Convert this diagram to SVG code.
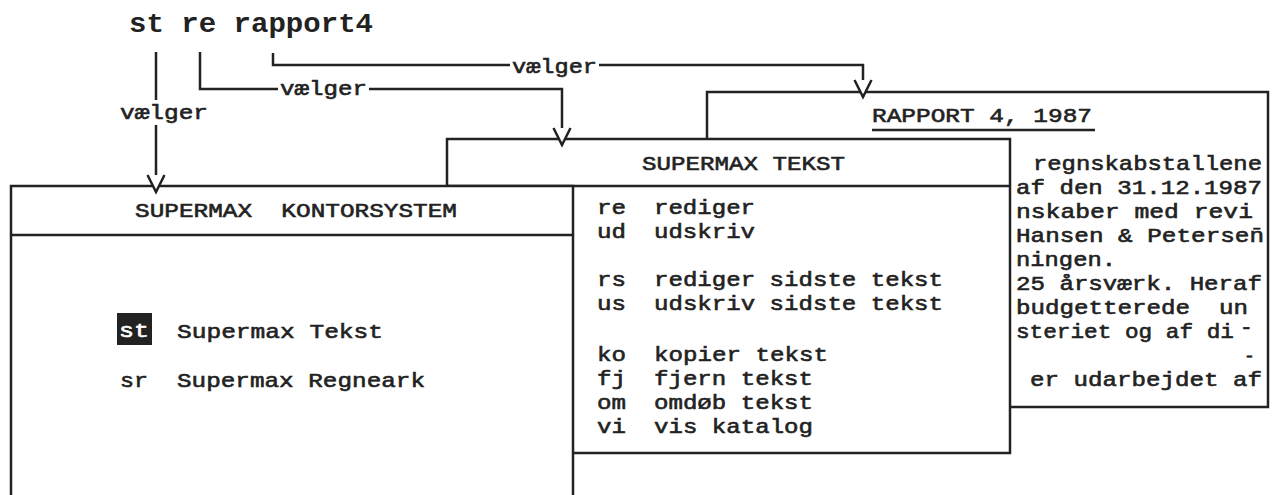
<svg xmlns="http://www.w3.org/2000/svg" width="1280" height="495" viewBox="0 0 1280 495">
<style>
.b{fill:#fff;stroke:#222;stroke-width:2.5}
.ln{fill:none;stroke:#222;stroke-width:2.5}
.t{font-family:"Liberation Mono",monospace;font-size:21px;fill:#222;stroke:#222;stroke-width:0.6;white-space:pre}
.cmd{font-family:"Liberation Mono",monospace;font-weight:bold;font-size:27px;fill:#222;white-space:pre}
</style>
<defs>
<marker id="v" markerUnits="userSpaceOnUse" markerWidth="40" markerHeight="40" refX="0" refY="0" orient="auto" overflow="visible">
<path d="M-17,-8.5 L0,0 L-17,8.5" fill="#fff" stroke="#222" stroke-width="2.5"/>
</marker>
</defs>
<rect width="1280" height="495" fill="#fff"/>
<g id="command">
<text class="cmd" x="129" y="32" textLength="244" lengthAdjust="spacingAndGlyphs">st re rapport4</text>
</g>
<g id="rapport">
<rect class="b" x="707" y="92" width="561" height="315"/>
<text class="t" x="872" y="122" textLength="220" lengthAdjust="spacingAndGlyphs">RAPPORT 4, 1987</text>
<line class="ln" x1="872" y1="130" x2="1095" y2="130"/>
<text class="t" x="1033" y="170" textLength="229" lengthAdjust="spacingAndGlyphs">regnskabstallene</text>
<text class="t" x="1016" y="194" textLength="246" lengthAdjust="spacingAndGlyphs">af den 31.12.1987</text>
<text class="t" x="1016" y="218" textLength="237" lengthAdjust="spacingAndGlyphs">nskaber med revi</text>
<text class="t" x="1016" y="242" textLength="248" lengthAdjust="spacingAndGlyphs">Hansen &amp; Petersen̄</text>
<text class="t" x="1016" y="266" textLength="100" lengthAdjust="spacingAndGlyphs">ningen.</text>
<text class="t" x="1016" y="290" textLength="246" lengthAdjust="spacingAndGlyphs">25 årsværk. Heraf</text>
<text class="t" x="1016" y="314" textLength="232" lengthAdjust="spacingAndGlyphs">budgetterede  un</text>
<text class="t" x="1016" y="338"><tspan textLength="218" lengthAdjust="spacingAndGlyphs">steriet og af di</tspan><tspan x="1240" dy="-4">-</tspan></text>
<text class="t" x="1244" y="362" style="font-size:18px">-</text>
<text class="t" x="1030" y="386" textLength="232" lengthAdjust="spacingAndGlyphs">er udarbejdet af</text>
</g>
<g id="tekst">
<rect class="b" x="447" y="139" width="563" height="314"/>
<line class="ln" x1="447" y1="186" x2="1010" y2="186"/>
<text class="t" x="642" y="170" textLength="203" lengthAdjust="spacingAndGlyphs">SUPERMAX TEKST</text>
<text class="t" x="597" y="214" textLength="29" lengthAdjust="spacingAndGlyphs">re</text><text class="t" x="654" y="214" textLength="101" lengthAdjust="spacingAndGlyphs">rediger</text>
<text class="t" x="597" y="238" textLength="29" lengthAdjust="spacingAndGlyphs">ud</text><text class="t" x="654" y="238" textLength="101" lengthAdjust="spacingAndGlyphs">udskriv</text>
<text class="t" x="597" y="286" textLength="29" lengthAdjust="spacingAndGlyphs">rs</text><text class="t" x="654" y="286" textLength="289" lengthAdjust="spacingAndGlyphs">rediger sidste tekst</text>
<text class="t" x="597" y="310" textLength="29" lengthAdjust="spacingAndGlyphs">us</text><text class="t" x="654" y="310" textLength="289" lengthAdjust="spacingAndGlyphs">udskriv sidste tekst</text>
<text class="t" x="597" y="361" textLength="29" lengthAdjust="spacingAndGlyphs">ko</text><text class="t" x="654" y="361" textLength="174" lengthAdjust="spacingAndGlyphs">kopier tekst</text>
<text class="t" x="597" y="385" textLength="29" lengthAdjust="spacingAndGlyphs">fj</text><text class="t" x="654" y="385" textLength="159" lengthAdjust="spacingAndGlyphs">fjern tekst</text>
<text class="t" x="597" y="409" textLength="29" lengthAdjust="spacingAndGlyphs">om</text><text class="t" x="654" y="409" textLength="159" lengthAdjust="spacingAndGlyphs">omdøb tekst</text>
<text class="t" x="597" y="433" textLength="29" lengthAdjust="spacingAndGlyphs">vi</text><text class="t" x="654" y="433" textLength="159" lengthAdjust="spacingAndGlyphs">vis katalog</text>
</g>
<g id="kontor">
<rect class="b" x="11" y="186" width="562" height="330"/>
<line class="ln" x1="11" y1="235" x2="573" y2="235"/>
<text class="t" x="135" y="217" textLength="322" lengthAdjust="spacingAndGlyphs">SUPERMAX  KONTORSYSTEM</text>
<rect x="117" y="313" width="35" height="32" fill="#222"/>
<text class="t" x="119" y="337" textLength="30" lengthAdjust="spacingAndGlyphs" style="fill:#fff;stroke:#fff">st</text>
<text class="t" x="177" y="338" textLength="206" lengthAdjust="spacingAndGlyphs">Supermax Tekst</text>
<text class="t" x="120" y="387" textLength="28" lengthAdjust="spacingAndGlyphs">sr</text>
<text class="t" x="177" y="387" textLength="248" lengthAdjust="spacingAndGlyphs">Supermax Regneark</text>
</g>
<g id="connectors">
<path class="ln" d="M156,52 V100"/>
<path class="ln" d="M156,125 V192" marker-end="url(#v)"/>
<text class="t" x="120" y="119" textLength="88" lengthAdjust="spacingAndGlyphs">vælger</text>
<path class="ln" d="M200,52 V89 H278"/>
<path class="ln" d="M369,89 H562 V145" marker-end="url(#v)"/>
<text class="t" x="280" y="95" textLength="87" lengthAdjust="spacingAndGlyphs">vælger</text>
<path class="ln" d="M273,53 V65 H510"/>
<path class="ln" d="M599,65 H863 V97" marker-end="url(#v)"/>
<text class="t" x="512" y="73" textLength="85" lengthAdjust="spacingAndGlyphs">vælger</text>
</g>
</svg>
